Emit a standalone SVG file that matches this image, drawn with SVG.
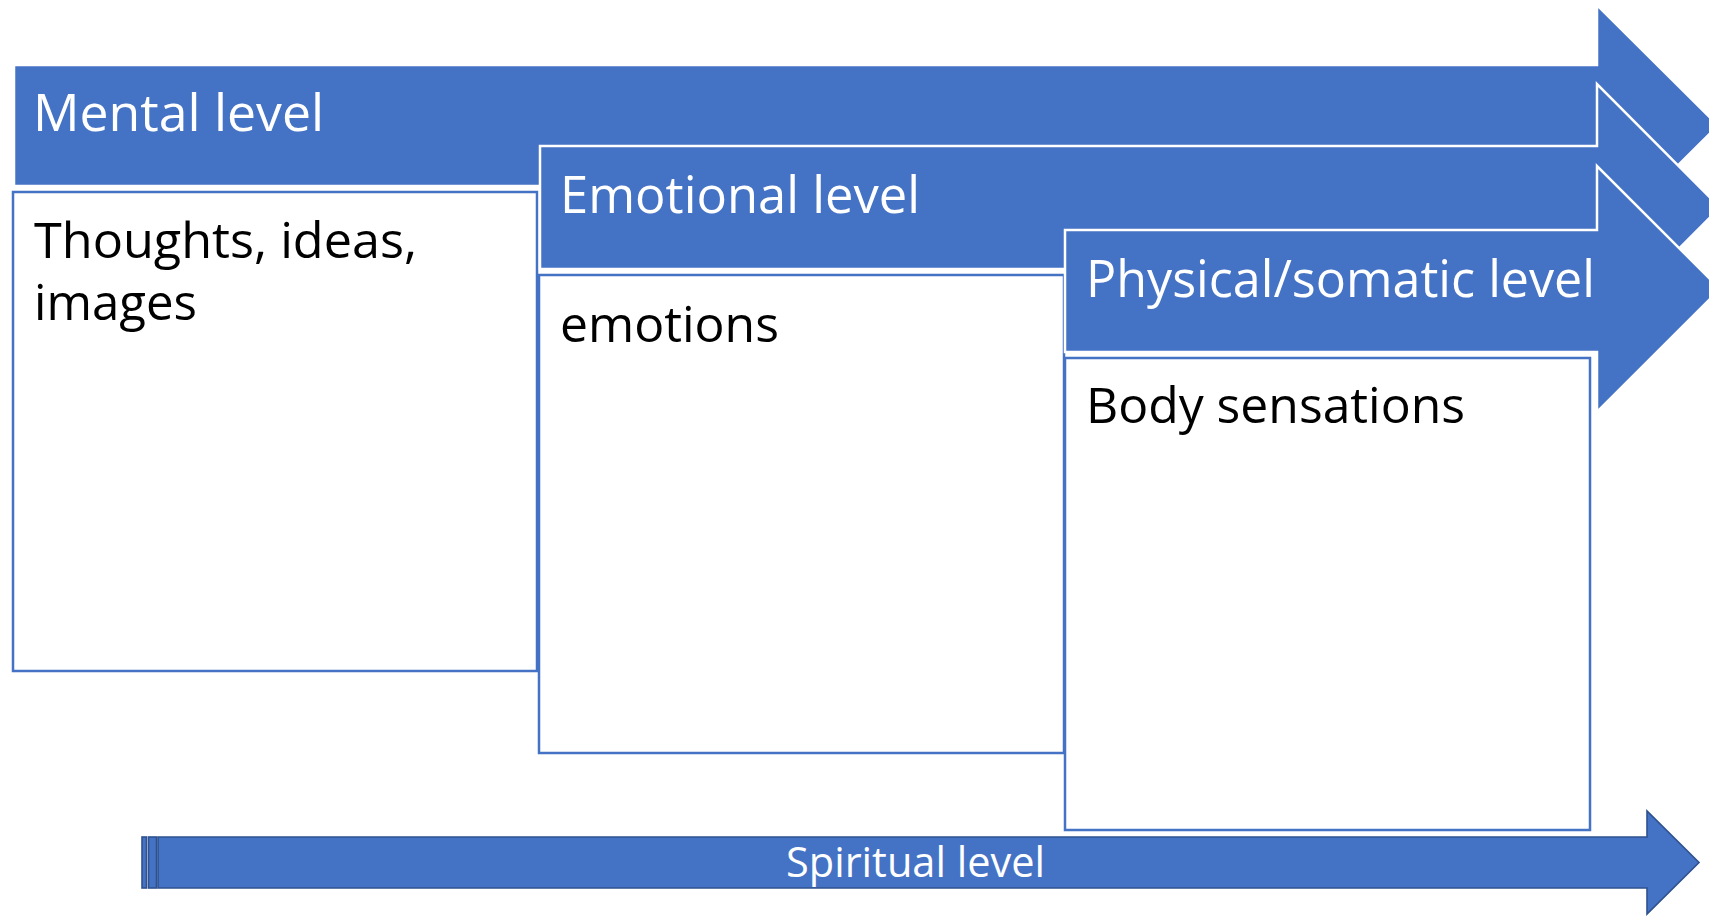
<svg xmlns="http://www.w3.org/2000/svg" width="1709" height="916" viewBox="0 0 1709 916">
  <style>
    .band { fill: #4472C4; stroke: #FFFFFF; stroke-width: 2.5; stroke-linejoin: miter; }
    .box { fill: #FFFFFF; stroke: #4472C4; stroke-width: 2.5; }
    .spirit { fill: #4472C4; stroke: #2F528F; stroke-width: 1.6; stroke-linejoin: miter; }
    .head { font-family: "Open Sans", "Noto Sans", "Liberation Sans", sans-serif; font-size: 52px; fill: #FFFFFF; }
    .body { font-family: "Open Sans", "Noto Sans", "Liberation Sans", sans-serif; font-size: 50px; fill: #000000; }
    .small { font-family: "Open Sans", "Noto Sans", "Liberation Sans", sans-serif; font-size: 42px; fill: #FFFFFF; }
  </style>
  <rect width="1709" height="916" fill="#FFFFFF"/>

  <!-- Mental level: header arrow + content box -->
  <g id="mental">
    <path class="band" d="M14,65 H1597 V5 L1718,125.5 L1597,246 V186 H14 Z"/>
    <rect class="box" x="13" y="192" width="524" height="479"/>
    <text class="head" x="33" y="131" textLength="291" lengthAdjust="spacingAndGlyphs">Mental level</text>
    <text class="body"><tspan x="34" y="258" textLength="383" lengthAdjust="spacingAndGlyphs">Thoughts, ideas,</tspan><tspan x="34" y="320" textLength="163" lengthAdjust="spacingAndGlyphs">images</tspan></text>
  </g>

  <!-- Emotional level -->
  <g id="emotional">
    <path class="band" d="M540,146 H1597 V84 L1720,207.5 L1597,331 V269 H540 Z"/>
    <rect class="box" x="539" y="275" width="525" height="478"/>
    <text class="head" x="560" y="213" textLength="360" lengthAdjust="spacingAndGlyphs">Emotional level</text>
    <text class="body" x="560" y="342" textLength="219" lengthAdjust="spacingAndGlyphs">emotions</text>
  </g>

  <!-- Physical/somatic level -->
  <g id="physical">
    <path class="band" d="M1065,230 H1597 V166 L1720,289 L1597,412 V352 H1065 Z"/>
    <rect class="box" x="1065" y="358" width="525" height="472"/>
    <text class="head" x="1086" y="297" textLength="509" lengthAdjust="spacingAndGlyphs">Physical/somatic level</text>
    <text class="body" x="1086" y="423" textLength="379" lengthAdjust="spacingAndGlyphs">Body sensations</text>
  </g>

  <!-- Spiritual level: striped arrow along the bottom -->
  <g id="spiritual">
    <rect class="spirit" x="142" y="837" width="4.5" height="51"/>
    <rect class="spirit" x="148.5" y="837" width="8" height="51"/>
    <path class="spirit" d="M158,837 H1647 V811 L1699,862.5 L1647,914 V888 H158 Z"/>
    <text class="small" x="786" y="877" textLength="259" lengthAdjust="spacingAndGlyphs">Spiritual level</text>
  </g>
</svg>
